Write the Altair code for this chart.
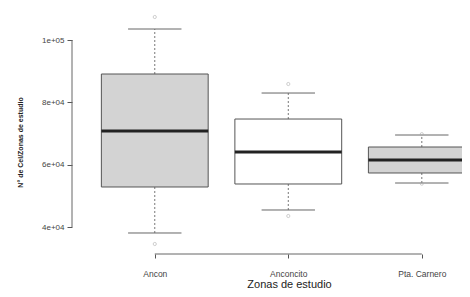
import altair as alt
import pandas as pd

zonas = ["Ancon", "Anconcito", "Pta. Carnero"]
posicion = [1, 2, 3]
whisker_low = [38080, 45460, 54120]
q1 = [52840, 53800, 57330]
median = [70810, 64070, 61500]
q3 = [89090, 74650, 65670]
whisker_high = [103530, 82990, 69520]
out_low = [34550, 43530, 53900]
out_high = [107380, 85880, 69800]
fills = ["#d3d3d3", "#ffffff", "#d3d3d3"]
y_ticks = [40000, 60000, 80000, 100000]
y_tick_labels = ["4e+04", "6e+04", "8e+04", "1e+05"]

W, H = 390, 246
BOX_HALF = 0.4
CAP_HALF = 0.2
X_DOMAIN = [0.38, 3.301]
Y_DOMAIN = [31340, 110270]

df = pd.DataFrame({
    "zona": zonas, "pos": posicion, "wlo": whisker_low, "q1": q1,
    "med": median, "q3": q3, "whi": whisker_high, "fill": fills,
})
pts = pd.DataFrame({
    "pos": posicion * 2,
    "val": out_low + out_high,
})
axis_df = pd.DataFrame({
    "ylo": [min(y_ticks)], "yhi": [max(y_ticks)],
    "xlo": [min(posicion)], "xhi": [max(posicion)],
    "xedge": [X_DOMAIN[0]], "yedge": [Y_DOMAIN[0]],
})


def cond_expr(keys, labels):
    s = "''"
    for k, l in zip(reversed(keys), reversed(labels)):
        s = f"datum.value == {k} ? '{l}' : ({s})"
    return s


xscale = alt.Scale(domain=X_DOMAIN, nice=False, zero=False)
yscale = alt.Scale(domain=Y_DOMAIN, nice=False, zero=False)

base = alt.Chart(df).transform_calculate(
    x1=f"datum.pos - {BOX_HALF}", x2=f"datum.pos + {BOX_HALF}",
    c1=f"datum.pos - {CAP_HALF}", c2=f"datum.pos + {CAP_HALF}",
)

xaxis = alt.Axis(
    values=posicion, labelExpr=cond_expr(posicion, zonas), domain=False,
    tickSize=4, tickColor="#555", grid=False, labelFontSize=8.5,
    labelColor="#444", labelBaseline="middle", labelPadding=15,
    labelFont="Liberation Sans", title="Zonas de estudio",
    titleFont="Liberation Sans", titleFontSize=11, titleFontWeight="normal",
    titleColor="#222", titleX=217, titleY=30, titleBaseline="middle",
)
yaxis = alt.Axis(
    values=y_ticks, labelExpr=cond_expr(y_ticks, y_tick_labels), domain=False,
    tickSize=5, tickColor="#555", grid=False, labelFontSize=8,
    labelColor="#444", labelPadding=3, labelFont="Liberation Sans",
    title="N° de Cel/Zonas de estudio", titleFont="Liberation Sans",
    titleFontSize=7, titleFontWeight="bold", titleColor="#222",
    titleX=-52, titleY=134, titleAlign="center", titleBaseline="middle",
)

whisk_hi = base.mark_rule(color="#777", strokeDash=[2, 2], strokeWidth=1).encode(
    x=alt.X("pos:Q", scale=xscale, axis=xaxis),
    y=alt.Y("q3:Q", scale=yscale, axis=yaxis), y2="whi:Q")
whisk_lo = base.mark_rule(color="#777", strokeDash=[2, 2], strokeWidth=1).encode(
    x="pos:Q", y="wlo:Q", y2="q1:Q")
cap_hi = base.mark_rule(color="#666", strokeWidth=1).encode(
    x="c1:Q", x2="c2:Q", y="whi:Q")
cap_lo = base.mark_rule(color="#666", strokeWidth=1).encode(
    x="c1:Q", x2="c2:Q", y="wlo:Q")
box = base.mark_rect(stroke="#555", strokeWidth=1, clip=True).encode(
    x="x1:Q", x2="x2:Q", y="q1:Q", y2="q3:Q",
    fill=alt.Fill("fill:N", scale=None))
med = base.mark_rule(color="#222", strokeWidth=3, clip=True).encode(
    x="x1:Q", x2="x2:Q", y="med:Q")
outs = alt.Chart(pts).mark_point(
    shape="circle", size=10, color="#aaa", strokeWidth=0.8, filled=False
).encode(x="pos:Q", y="val:Q")

yline = alt.Chart(axis_df).mark_rule(color="#666", strokeWidth=1).encode(
    x="xedge:Q", y="ylo:Q", y2="yhi:Q")
xline = alt.Chart(axis_df).mark_rule(color="#666", strokeWidth=1).encode(
    x="xlo:Q", x2="xhi:Q", y="yedge:Q")

chart = alt.layer(
    whisk_hi, whisk_lo, cap_hi, cap_lo, box, med, outs, yline, xline
).properties(
    width=W, height=H, autosize="none",
    padding={"left": 64, "top": 0, "right": 0, "bottom": 35},
).configure(background="white").configure_view(
    strokeWidth=0, strokeOpacity=0
).configure_axis(domain=False, grid=False)

chart.save("out.html", embed_options={"renderer": "svg", "actions": False})
